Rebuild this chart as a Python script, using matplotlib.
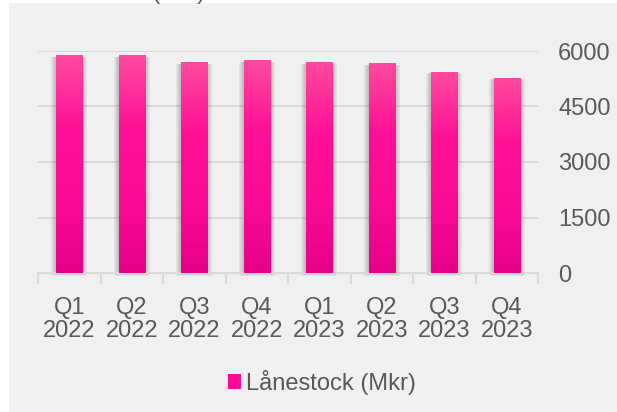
import numpy as np
import matplotlib
matplotlib.use("Agg")
import matplotlib.pyplot as plt
from matplotlib.colors import LinearSegmentedColormap
from matplotlib.patches import Rectangle

# Lånestock per quarter (Mkr)
quarters = ["Q1\n2022", "Q2\n2022", "Q3\n2022", "Q4\n2022",
            "Q1\n2023", "Q2\n2023", "Q3\n2023", "Q4\n2023"]
values = [5865, 5865, 5676, 5730, 5676, 5649, 5432, 5270]
yticks = [0, 1500, 3000, 4500, 6000]

plt.rcParams['font.family'] = ['Liberation Sans', 'DejaVu Sans']

bg = "#f0f0f0"
text_col = "#595959"
grid_col = "#d9d9d9"
pink = LinearSegmentedColormap.from_list(
    "pink", ["#e5008a", "#fb0b95", "#ff1096", "#ff4a9f"])

fig = plt.figure(figsize=(6.17, 4.12), dpi=100)
fig.patch.set_facecolor("white")
# grey panel behind the chart
fig.patches.append(Rectangle((9 / 617, 0), 1, 1 - 3 / 412, transform=fig.transFigure,
                             facecolor=bg, edgecolor="none", zorder=-5))
# cut-off title above the panel (only the lowest pixels show)
fig.text(45 / 617, 1 + 1.5 / 412, "Lånestock (Mkr)", fontsize=16, color=text_col,
         va="baseline", ha="left", zorder=-4)

ax = fig.add_axes([38 / 617, 1 - 273 / 412, 500 / 617, 222 / 412])
ax.set_facecolor("none")

x = np.arange(len(values))
w = 0.42
grad = np.linspace(0, 1, 256).reshape(-1, 1)
px_x = len(values) / 500.0
px_y = 6000 / 222.0
for xi, v in zip(x, values):
    # soft shadow
    for k in range(1, 6):
        ax.add_patch(Rectangle((xi - w / 2 - k * px_x, -k * px_y * 0.6),
                               w + 2 * k * px_x, v + k * px_y * 0.3,
                               facecolor="#505050", edgecolor="none",
                               alpha=0.07, zorder=2, clip_on=False))
    ax.imshow(grad, extent=[xi - w / 2, xi + w / 2, 0, v], origin="lower",
              cmap=pink, aspect="auto", zorder=3)
ax.set_xlim(-0.5, len(values) - 0.5)
ax.set_ylim(0, 6000)

ax.set_yticks(yticks)
ax.yaxis.tick_right()
ax.grid(axis="y", color=grid_col, linewidth=1.5, zorder=1)
ax.set_axisbelow(True)
ax.tick_params(axis="y", length=0, pad=14.5, labelsize=17, labelcolor=text_col)

ax.set_xticks(x)
ax.set_xticklabels(quarters, linespacing=1.05)
ax.tick_params(axis="x", length=0, pad=17.5, labelsize=17, labelcolor=text_col)
ax.set_xticks(np.arange(-0.5, len(values)), minor=True)
ax.tick_params(axis="x", which="minor", length=8, width=1.5, color=grid_col)

for s in ["top", "left", "right"]:
    ax.spines[s].set_visible(False)
ax.spines["bottom"].set_color(grid_col)
ax.spines["bottom"].set_linewidth(1.5)

handle = Rectangle((0, 0), 1, 1, facecolor="#ff0a93", edgecolor="none")
fig.legend([handle], ["Lånestock (Mkr)"], loc="center", bbox_to_anchor=(0.522, 0.072),
           frameon=False, fontsize=17, labelcolor=text_col,
           handlelength=0.55, handleheight=0.55, handletextpad=0.2)

fig.savefig("out.png", dpi=100, facecolor=fig.get_facecolor())
